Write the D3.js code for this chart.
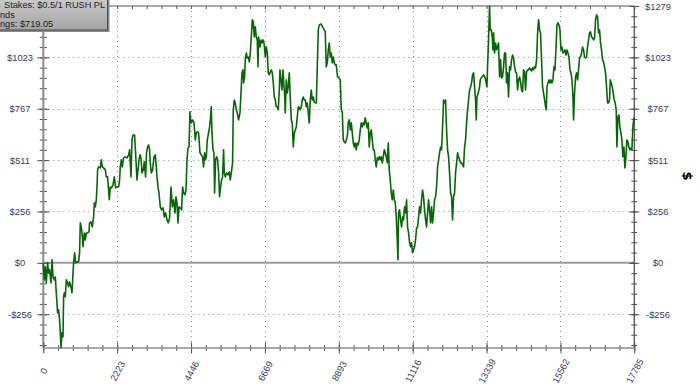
<!DOCTYPE html>
<html>
<head>
<meta charset="utf-8">
<script src="https://cdn.jsdelivr.net/npm/d3@7"></script>
<style>
  body { margin: 0; background: #fff; }
  svg { display: block; }
</style>
</head>
<body>
<div id="chart"></div>
<script>
// Tick values and labels
const xTicks = [0, 2223, 4446, 6669, 8893, 11116, 13339, 15562, 17785];
const yTicks = [-255.8, 0, 255.8, 511.6, 767.4, 1023.2, 1279];
const yLabels = ['-$256', '$0', '$256', '$511', '$767', '$1023', '$1279'];
const legendLines = ['Stakes: $0.5/1 RUSH PL', 'nds', 'ngs: $719.05'];

// Running winnings: [hand, dollars]
const points = [
  [0,0],[30,-85],[60,-20],[90,-100],[129,0],[159,-50],[190,-35],[232,-100],[262,15],[292,-70],
  [331,-85],[361,-70],[391,-149],[430,-249],[460,-234],[490,-284],[512,-348],[533,-422],[563,-348],[593,-368],
  [611,-169],[632,-149],[662,-169],[692,-85],[731,-100],[761,-119],[791,-95],[833,-119],[864,-149],[894,-50],
  [912,0],[942,50],[972,0],[1014,5],[1062,5],[1092,50],[1113,199],[1143,179],[1174,129],[1195,80],
  [1233,149],[1264,114],[1294,149],[1333,149],[1375,154],[1393,199],[1435,204],[1474,179],[1514,229],[1535,299],
  [1565,279],[1595,314],[1616,378],[1634,463],[1664,478],[1715,473],[1745,513],[1775,478],[1814,473],[1866,463],
  [1896,428],[1935,428],[1965,363],[1986,314],[2016,378],[2055,373],[2097,388],[2136,428],[2176,373],[2218,378],
  [2266,378],[2296,413],[2317,478],[2347,513],[2377,478],[2416,523],[2467,528],[2519,523],[2567,538],[2597,563],
  [2639,428],[2669,612],[2699,637],[2747,637],[2777,548],[2819,413],[2850,463],[2880,513],[2910,538],[2940,523],
  [2970,448],[3009,463],[3039,503],[3078,428],[3108,548],[3138,577],[3169,587],[3199,563],[3220,498],[3250,448],
  [3289,463],[3331,528],[3370,538],[3400,478],[3421,428],[3451,378],[3481,348],[3521,279],[3560,264],[3602,274],
  [3641,229],[3680,249],[3722,214],[3761,199],[3800,224],[3843,378],[3882,279],[3921,314],[3963,249],[3993,329],
  [4023,299],[4053,199],[4083,279],[4122,274],[4162,264],[4192,378],[4222,348],[4264,339],[4294,363],[4324,513],
  [4354,572],[4384,577],[4414,752],
  [4423,727],[4453,697],[4492,712],[4535,697],[4574,612],[4604,647],[4634,652],[4673,647],[4715,548],[4754,538],
  [4793,528],[4823,478],[4854,548],[4875,513],[4905,528],[4935,612],[4974,647],[5004,677],[5034,727],[5055,777],
  [5076,647],[5106,563],[5136,548],[5154,348],[5185,513],[5215,528],[5245,513],[5275,448],[5305,329],[5335,378],
  [5365,413],[5395,428],[5425,563],[5446,448],[5476,428],[5516,448],[5558,438],[5597,453],[5627,413],[5657,448],
  [5696,498],[5717,762],[5747,811],[5777,796],[5807,762],[5837,747],[5877,712],[5919,747],[5949,846],[5979,946],
  [6009,961],[6027,896],[6057,926],[6078,1011],[6108,1045],[6138,1020],[6168,1025],[6199,1001],[6229,1045],[6259,1125],
  [6289,1210],[6319,1200],[6349,1125],[6379,1175],[6409,1125],[6439,1110],[6460,976],[6478,1125],[6520,1075],[6551,1110],
  [6581,1095],[6620,1110],[6650,1085],[6680,1025],[6710,1075],[6740,1045],[6770,946],[6800,936],[6830,951],[6861,961],
  [6891,946],[6921,896],[6951,826],[6981,811],[7011,777],[7041,777],[7071,762],[7101,861],[7122,961],[7152,911],
  [7182,861],[7213,961],[7243,876],[7261,846],[7282,747],[7312,911],[7342,846],[7372,876],[7402,946],[7432,826],
  [7462,712],[7492,697],[7523,577],[7553,647],[7583,662],[7613,677],[7643,727],[7673,777],[7703,772],[7733,762],
  [7763,777],[7793,811],[7823,826],[7854,811],[7884,811],[7914,777],[7944,796],[7974,747],[8004,697],[8034,811],
  [8064,861],[8094,811],[8124,826],[8154,801],[8184,796],[8215,796],[8245,976],[8275,1160],[8305,1185],[8356,1190],
  [8404,1175],[8455,1160],[8485,1150],[8515,976],[8546,996],[8576,1060],[8606,1095],[8636,1025],[8666,1045],[8696,996],
  [8726,1025],[8756,996],[8786,986],
  [8816,986],[8855,926],[8898,921],[8937,911],[8967,762],[8997,752],[9027,612],[9057,602],[9087,597],[9117,612],
  [9147,627],[9177,697],[9208,712],[9238,662],[9268,697],[9298,647],[9328,597],[9358,577],[9388,597],[9418,563],
  [9448,597],[9478,587],[9508,612],[9539,662],[9569,697],[9599,677],[9629,697],[9659,687],[9689,722],[9719,697],
  [9749,672],[9779,697],[9809,577],[9839,647],[9869,662],[9900,612],[9930,563],[9960,563],[9990,513],[10020,478],
  [10050,523],[10080,513],[10110,528],[10140,513],[10170,528],[10200,498],[10231,528],[10261,563],[10291,548],[10321,528],
  [10351,498],[10381,597],[10411,463],[10441,413],[10471,348],[10501,314],[10532,363],[10562,314],[10592,299],[10622,229],
  [10652,114],[10673,15],[10691,249],[10721,264],[10751,214],[10781,179],[10811,229],[10841,214],[10871,279],[10901,249],
  [10932,314],[10962,179],[10992,149],[11022,100],[11052,80],[11082,100],[11112,50],[11142,65],[11172,80],[11202,114],
  [11233,174],[11263,179],[11293,229],[11323,279],[11353,249],[11383,314],[11413,363],[11443,329],[11473,264],[11503,214],
  [11534,179],[11564,249],[11594,314],[11624,264],[11654,199],[11684,279],[11714,199],[11744,249],[11774,314],[11804,329],
  [11835,378],[11865,478],[11895,513],[11925,548],[11955,577],[11985,563],[12015,677],[12045,811],[12075,796],[12105,811],
  [12136,662],[12166,563],[12196,528],[12226,448],[12256,348],[12286,329],[12316,214],[12346,329],[12376,348],[12406,448],
  [12437,498],[12467,548],[12497,528],[12527,513],[12557,498],[12587,498],[12617,488],[12647,478],[12677,577],[12707,612],
  [12738,697],[12768,762],[12798,811],[12828,861],[12858,876],[12888,896],[12918,936],[12948,946],[12978,876],[13008,811],
  [13029,712],[13050,826],[13089,846],[13129,876],[13149,911],
  [13200,926],[13249,936],[13300,921],[13351,876],[13369,976],[13399,1110],[13429,1279],[13450,1160],[13480,1160],[13510,1125],
  [13532,1060],[13550,1145],[13580,1045],[13610,1095],[13640,1060],[13670,1075],[13700,1095],[13730,926],[13760,1011],[13790,921],
  [13820,926],[13851,976],[13881,1045],[13911,1045],[13941,896],[13971,946],[14001,826],[14031,976],[14061,961],[14091,1011],
  [14121,1035],[14151,1020],[14182,976],[14212,951],[14242,946],[14272,861],[14302,911],[14332,926],[14362,901],[14392,861],
  [14422,851],[14452,961],[14483,951],[14513,861],[14543,951],[14573,961],[14603,961],[14633,971],[14663,961],[14693,956],
  [14723,971],[14753,961],[14784,976],[14814,971],[14844,1011],[14874,1145],[14904,1210],[14934,1160],[14964,1145],[14994,1011],
  [15024,876],[15054,846],[15085,811],[15115,777],[15136,762],[15157,876],[15187,896],[15217,911],[15247,896],[15277,911],
  [15307,896],[15337,911],[15367,976],[15397,961],[15427,1060],[15457,1185],[15488,1195],[15518,1185],[15548,1160],[15578,1060],
  [15608,1075],[15638,1045],[15668,1050],[15698,1060],[15728,1035],[15758,1060],[15789,1045],[15819,1025],[15849,961],[15879,946],
  [15909,911],[15939,826],[15957,712],[15987,846],[16017,926],[16047,946],[16077,911],[16107,961],[16137,1020],[16167,1025],
  [16198,1045],[16228,1075],[16258,1060],[16288,1025],[16318,1020],[16348,1025],[16378,1075],[16408,1110],[16438,1145],[16468,1150],
  [16498,1125],[16528,1120],[16559,1110],[16589,1120],[16619,1210],[16649,1235],[16679,1225],[16709,1145],[16739,1160],[16769,1095],
  [16799,1060],[16829,1011],[16859,1001],[16890,976],[16920,946],[16950,876],[16980,796],[17010,796],[17040,811],[17061,911],
  [17091,896],[17121,876],[17151,846],[17181,811],[17211,796],[17241,762],[17262,577],[17292,727],[17322,737],[17352,677],
  [17383,647],[17413,612],[17443,528],[17473,577],[17503,473],[17533,528],[17563,612],[17593,602],[17623,577],[17653,563],
  [17683,572],[17713,563],[17743,677],[17773,722],[17785,719.05]
];

const width = 700, height = 392;
const plotLeft = 43.3, plotRight = 634.3, plotTop = 6, plotBottom = 348;
const labelFont = '"Liberation Sans", Arial, sans-serif';
const labelColor = '#3c3c5a';

const svg = d3.select('#chart').append('svg')
  .attr('width', width)
  .attr('height', height);

const x = d3.scaleLinear().domain([0, 17785]).range([plotLeft, plotRight]);
const y = d3.scaleLinear().domain([-424, 1279]).range([plotBottom, plotTop]);

// minor tick positions (fifths of a major step)
const xMinor = d3.range(0, 17785.5, 17785 / 40);
const yMinor = d3.range(1279, -424, -1279 / 25);

// Dotted grid
svg.append('g').selectAll('line')
  .data(xTicks.slice(1, -1))
  .join('line')
  .attr('x1', d => Math.round(x(d)) + 0.5).attr('x2', d => Math.round(x(d)) + 0.5)
  .attr('y1', plotTop).attr('y2', plotBottom)
  .attr('stroke', '#8a8a8a').attr('stroke-width', 1)
  .attr('stroke-dasharray', '1,4');

svg.append('g').selectAll('line')
  .data(yTicks.filter(d => d !== 0 && d !== 1279))
  .join('line')
  .attr('x1', plotLeft).attr('x2', plotRight)
  .attr('y1', d => Math.round(y(d)) + 0.5).attr('y2', d => Math.round(y(d)) + 0.5)
  .attr('stroke', '#8a8a8a').attr('stroke-width', 1)
  .attr('stroke-dasharray', '1,4');

// Zero line
svg.append('line')
  .attr('x1', plotLeft).attr('x2', plotRight)
  .attr('y1', y(0)).attr('y2', y(0))
  .attr('stroke', '#9a9a9a').attr('stroke-width', 2);

// Helper for crossing tick marks built from d3 axes
function crossTicks(gen, scale, values, half, tx, ty) {
  const g = svg.append('g')
    .attr('transform', `translate(${tx},${ty})`)
    .call(gen(scale).tickValues(values).tickSize(half * 2).tickFormat(''));
  g.select('.domain').remove();
  g.selectAll('line').attr('stroke', '#555').attr('stroke-width', 1);
  return g;
}

// Left axis
crossTicks(d3.axisRight, y, yMinor, 3.5, plotLeft - 3.5, 0);
crossTicks(d3.axisRight, y, yTicks, 6, plotLeft - 6, 0);
svg.append('line')
  .attr('x1', plotLeft).attr('x2', plotLeft).attr('y1', plotTop).attr('y2', plotBottom)
  .attr('stroke', '#8c8c8c').attr('stroke-width', 2);

// the top label on the left sits under the legend box, so it is left out
const leftLabels = svg.append('g')
  .attr('transform', `translate(${plotLeft},0)`)
  .call(d3.axisLeft(y).tickValues(yTicks.slice(0, -1)).tickSize(0).tickFormat((d, i) => yLabels[i]));
leftLabels.select('.domain').remove();
leftLabels.selectAll('text')
  .attr('x', 20 - plotLeft)
  .attr('text-anchor', 'middle')
  .attr('fill', labelColor)
  .style('font-family', labelFont)
  .style('font-size', '9.4px');

// Right axis
crossTicks(d3.axisRight, y, yMinor, 3, plotRight - 3, 0);
crossTicks(d3.axisRight, y, yTicks, 5, plotRight - 5, 0);
svg.append('line')
  .attr('x1', plotRight).attr('x2', plotRight).attr('y1', plotTop).attr('y2', plotBottom)
  .attr('stroke', '#444').attr('stroke-width', 1.2);

const rightLabels = svg.append('g')
  .attr('transform', `translate(${plotRight},0)`)
  .call(d3.axisRight(y).tickValues(yTicks).tickSize(0).tickFormat((d, i) => yLabels[i]));
rightLabels.select('.domain').remove();
rightLabels.selectAll('text')
  .attr('x', 658 - plotRight)
  .attr('text-anchor', 'middle')
  .attr('fill', labelColor)
  .style('font-family', labelFont)
  .style('font-size', '9.4px');

svg.append('text')
  .attr('transform', 'translate(688,176) rotate(90)')
  .attr('text-anchor', 'middle')
  .attr('dy', '0.35em')
  .attr('fill', '#000')
  .style('font-family', '"DejaVu Sans", sans-serif')
  .style('font-weight', 'bold')
  .style('font-size', '13px')
  .text('$');

// Top border with small inward ticks
const topTicks = svg.append('g')
  .attr('transform', `translate(0,${plotTop})`)
  .call(d3.axisBottom(x).tickValues(xMinor).tickSize(3).tickFormat(''));
topTicks.select('.domain').remove();
topTicks.selectAll('line').attr('stroke', '#555');
svg.append('line')
  .attr('x1', plotLeft).attr('x2', plotRight).attr('y1', plotTop).attr('y2', plotTop)
  .attr('stroke', '#555').attr('stroke-width', 1.2);

// Bottom axis
crossTicks(d3.axisBottom, x, xMinor, 3, 0, plotBottom - 3);
crossTicks(d3.axisBottom, x, xTicks, 5.5, 0, plotBottom - 5.5);
svg.append('line')
  .attr('x1', plotLeft).attr('x2', plotRight).attr('y1', plotBottom).attr('y2', plotBottom)
  .attr('stroke', '#8c8c8c').attr('stroke-width', 1.6);

const xLabels = svg.append('g')
  .attr('transform', `translate(0,${plotBottom})`)
  .call(d3.axisBottom(x).tickValues(xTicks).tickSize(0).tickFormat(d3.format('d')));
xLabels.select('.domain').remove();
xLabels.selectAll('.tick text')
  .attr('y', 0)
  .attr('dy', '0.35em')
  .attr('text-anchor', 'middle')
  .attr('transform', 'translate(0,23) rotate(-62)')
  .attr('fill', labelColor)
  .style('font-family', labelFont)
  .style('font-size', '9.4px');

// Winnings line
const line = d3.line()
  .x(d => x(d[0]))
  .y(d => y(d[1]));

svg.append('path')
  .datum(points)
  .attr('fill', 'none')
  .attr('stroke', '#0a650a')
  .attr('stroke-width', 1.6)
  .attr('stroke-linejoin', 'round')
  .attr('d', line);

// Legend box in top-left corner
const defs = svg.append('defs');
const grad = defs.append('linearGradient')
  .attr('id', 'legendFill')
  .attr('x1', 0).attr('y1', 0).attr('x2', 0).attr('y2', 1);
grad.append('stop').attr('offset', '0%').attr('stop-color', '#d6d6d6');
grad.append('stop').attr('offset', '100%').attr('stop-color', '#a3a3a3');

const legend = svg.append('g');
legend.append('rect')
  .attr('x', -10).attr('y', -10)
  .attr('width', 119.5).attr('height', 42)
  .attr('fill', '#8a8a8a');
legend.append('rect')
  .attr('x', -10).attr('y', -10)
  .attr('width', 117.5).attr('height', 40)
  .attr('fill', 'url(#legendFill)')
  .attr('stroke', '#4d4d4d')
  .attr('stroke-width', 1);

legend.selectAll('text')
  .data(legendLines)
  .join('text')
  .attr('x', (d, i) => i === 0 ? 4 : 0)
  .attr('y', (d, i) => 8.4 + i * 9.4)
  .attr('fill', '#1e1e1e')
  .style('font-family', labelFont)
  .style('font-size', '9.2px')
  .text(d => d);
</script>
</body>
</html>
